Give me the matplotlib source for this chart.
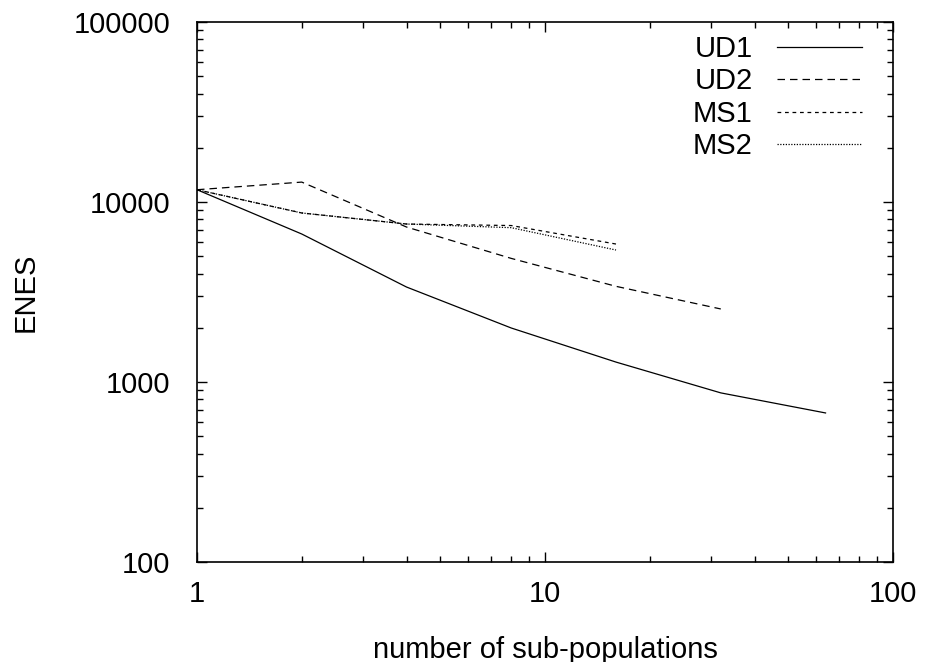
import matplotlib
matplotlib.use("Agg")
import matplotlib.pyplot as plt
from matplotlib.ticker import LogLocator, FixedLocator, NullFormatter

# data (log-log)
subpops = [1, 2, 4, 8, 16, 32, 64]
ud1 = [11700, 6640, 3370, 1995, 1290, 870, 673]
ud2 = [11700, 12900, 7260, 4860, 3400, 2545]
ms1 = [11700, 8690, 7545, 7400, 5840]
ms2 = [11700, 8690, 7545, 7200, 5410]

plt.rcParams["font.family"] = ["Liberation Sans", "DejaVu Sans"]

fig = plt.figure(figsize=(9.31, 6.62), dpi=100, facecolor="white")
ax = fig.add_axes([197 / 931, 1 - 562 / 662, (893 - 197) / 931, (562 - 22) / 662])

lw = 0.9
ax.plot(subpops[:len(ud1)], ud1, color="black", lw=lw, label="UD1")
ax.plot(subpops[:len(ud2)], ud2, color="black", lw=lw, dashes=(6, 4), label="UD2")
ax.plot(subpops[:len(ms1)], ms1, color="black", lw=lw, dashes=(3, 3), label="MS1")
ax.plot(subpops[:len(ms2)], ms2, color="black", lw=lw, dashes=(1, 1.2), label="MS2")

ax.set_xscale("log")
ax.set_yscale("log")
ax.set_xlim(1, 100)
ax.set_ylim(100, 100000)

ax.xaxis.set_major_locator(FixedLocator([1, 10, 100]))
ax.yaxis.set_major_locator(FixedLocator([100, 1000, 10000, 100000]))
ax.set_xticklabels(["1", "10", "100"])
ax.set_yticklabels(["100", "1000", "10000", "100000"])
ax.xaxis.set_minor_locator(LogLocator(base=10, subs=range(2, 10)))
ax.yaxis.set_minor_locator(LogLocator(base=10, subs=range(2, 10)))
ax.xaxis.set_minor_formatter(NullFormatter())
ax.yaxis.set_minor_formatter(NullFormatter())

ax.tick_params(which="both", direction="in", top=True, right=True, width=1.0)
ax.tick_params(which="major", length=7, labelsize=21)
ax.tick_params(axis="x", which="major", pad=13)
ax.tick_params(axis="y", which="major", pad=19)
ax.tick_params(which="minor", length=4)
for s in ax.spines.values():
    s.set_linewidth(1.2)

ax.set_xlabel("number of sub-populations", fontsize=21, labelpad=20)
ax.set_ylabel("ENES", fontsize=21, labelpad=25)

ax.legend(loc="upper right", frameon=False, markerfirst=False, fontsize=21,
          handlelength=2.9, handletextpad=0.85, labelspacing=0.15,
          borderpad=0, borderaxespad=0,
          bbox_to_anchor=(862 / 931, 1 - 35 / 662), bbox_transform=fig.transFigure)

fig.savefig("out.png", dpi=100)
